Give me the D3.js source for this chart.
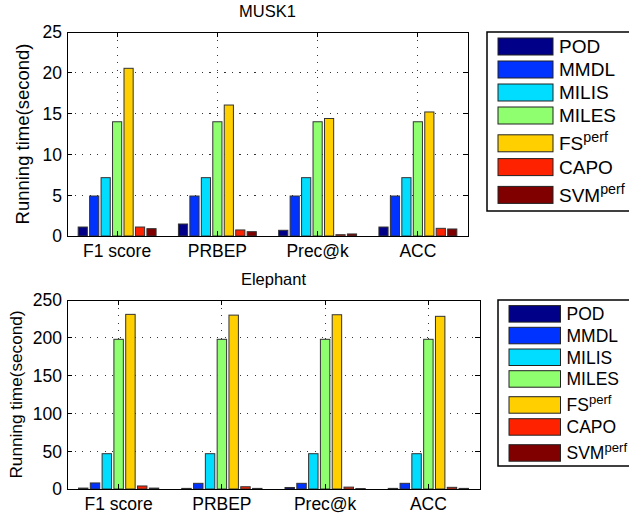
<!DOCTYPE html>
<meta charset="utf-8">
<script src="https://cdn.jsdelivr.net/npm/d3@7"></script>
<style type="text/css">
body { margin: 0; background: #fff; }
text { font-family: Arial, "Liberation Sans", sans-serif; fill: #000; }
.grid line { stroke: #333; stroke-width: 1; stroke-dasharray: 1.2,6.3; shape-rendering: crispEdges; }
.frame { fill: none; stroke: #000; stroke-width: 1; shape-rendering: crispEdges; }
.tick-in { stroke: #000; stroke-width: 1; shape-rendering: crispEdges; }
.bar { stroke: #333; stroke-width: 1; }
</style>
<body>
<div id="container"></div>
<script>
//---------------------------- DATA ----------------------------//
const categories = ["F1 score", "PRBEP", "Prec@k", "ACC"];
const methods = ["POD", "MMDL", "MILIS", "MILES", "FS", "CAPO", "SVM"];
const methodSup = ["", "", "", "", "perf", "", "perf"];
const methodColors = ["#000088", "#0033ff", "#00ddff", "#8fff70", "#ffcf00", "#ff2200", "#800000"];

// running time (second), one row per category, one value per method
const musk1Values = [
    [1.1, 4.9, 7.15, 14.0, 20.55, 1.1, 0.9],
    [1.47, 4.9, 7.15, 14.0, 16.05, 0.74, 0.53],
    [0.7, 4.9, 7.15, 14.0, 14.4, 0.16, 0.25],
    [1.1, 4.9, 7.15, 14.0, 15.2, 0.94, 0.86]
];
const elephantValues = [
    [1.2, 8, 46.7, 198, 231, 4, 1.2],
    [0.8, 7.5, 46.7, 198, 230, 3, 0.8],
    [2, 7.5, 46.7, 198, 230.5, 2.5, 0.6],
    [0.8, 7.5, 46.7, 198, 228.4, 2.2, 0.8]
];
const musk1Ticks = [0, 5, 10, 15, 20, 25];
const elephantTicks = [0, 50, 100, 150, 200, 250];

//---------------------------- SVG -----------------------------//
const W = 629, H = 519;
const svg = d3.select("#container").append("svg")
    .attr("width", W).attr("height", H);
svg.append("rect").attr("width", W).attr("height", H).attr("fill", "#fff");

function drawPanel(p) {
    const g = svg.append("g");
    const x = d3.scaleBand().domain(categories).range([p.left, p.right]).padding(0);
    const xs = d3.scaleBand().domain(methods)
        .range([x.bandwidth() * 0.1, x.bandwidth() * 0.9])
        .paddingInner(0.2).paddingOuter(0.1);
    const y = d3.scaleLinear().domain([0, p.ticks[p.ticks.length - 1]]).range([p.bottom, p.top]);

    // grid (behind bars)
    const grid = g.append("g").attr("class", "grid");
    grid.selectAll(".gy").data(p.ticks.slice(1, -1)).enter().append("line")
        .attr("x1", p.left).attr("x2", p.right)
        .attr("y1", d => y(d)).attr("y2", d => y(d));
    grid.selectAll(".gx").data(categories).enter().append("line")
        .attr("x1", d => x(d) + x.bandwidth() / 2).attr("x2", d => x(d) + x.bandwidth() / 2)
        .attr("y1", p.top).attr("y2", p.bottom);

    // bars
    const groups = g.selectAll(".grp").data(p.values).enter().append("g")
        .attr("transform", (d, i) => "translate(" + x(categories[i]) + ",0)");
    groups.selectAll("rect").data(d => d.map((v, j) => ({ m: methods[j], v: v, c: methodColors[j] })))
        .enter().append("rect")
        .attr("class", "bar")
        .attr("x", d => xs(d.m))
        .attr("width", xs.bandwidth())
        .attr("y", d => y(d.v))
        .attr("height", d => y(0) - y(d.v))
        .attr("fill", d => d.c);

    // frame and inner ticks
    g.append("rect").attr("class", "frame")
        .attr("x", p.left).attr("y", p.top)
        .attr("width", p.right - p.left).attr("height", p.bottom - p.top);
    p.ticks.forEach(t => {
        g.append("line").attr("class", "tick-in").attr("x1", p.left).attr("x2", p.left + 5).attr("y1", y(t)).attr("y2", y(t));
        g.append("line").attr("class", "tick-in").attr("x1", p.right - 5).attr("x2", p.right).attr("y1", y(t)).attr("y2", y(t));
    });
    categories.forEach(c => {
        const cx = x(c) + x.bandwidth() / 2;
        g.append("line").attr("class", "tick-in").attr("x1", cx).attr("x2", cx).attr("y1", p.bottom).attr("y2", p.bottom - 5);
        g.append("line").attr("class", "tick-in").attr("x1", cx).attr("x2", cx).attr("y1", p.top).attr("y2", p.top + 5);
    });

    // tick labels
    g.selectAll(".yl").data(p.ticks).enter().append("text")
        .attr("x", p.left - 5).attr("y", d => y(d))
        .attr("dy", "0.36em").attr("text-anchor", "end")
        .style("font-size", p.fs + "px").text(d => d);
    g.selectAll(".xl").data(categories).enter().append("text")
        .attr("x", d => x(d) + x.bandwidth() / 2).attr("y", p.bottom + 21)
        .attr("text-anchor", "middle")
        .style("font-size", p.fs + "px").text(d => d);

    // title and y label
    g.append("text").attr("x", (p.left + p.right) / 2).attr("y", p.top - 15)
        .attr("text-anchor", "middle").style("font-size", "16.5px").text(p.title);
    g.append("text")
        .attr("transform", "translate(" + p.ylabX + "," + (p.top + p.bottom) / 2 + ") rotate(-90)")
        .attr("text-anchor", "middle").style("font-size", p.ylabFs + "px")
        .text("Running time(second)");

    // legend
    const lg = svg.append("g");
    lg.append("rect")
        .attr("x", p.lgX).attr("y", p.lgY)
        .attr("width", W - p.lgX + 10).attr("height", p.lgH)
        .attr("fill", "#fff").attr("stroke", "#000").attr("stroke-width", 1.5);
    let cy = p.lgY + 3;
    methods.forEach((m, i) => {
        const h = methodSup[i] ? p.rowSup : p.row;
        const mid = cy + h / 2 + (methodSup[i] ? 2 : 0);
        lg.append("rect")
            .attr("x", p.lgX + 11).attr("y", mid - p.swH / 2)
            .attr("width", p.swW).attr("height", p.swH)
            .attr("fill", methodColors[i]).attr("stroke", "#222").attr("stroke-width", 1);
        const t = lg.append("text")
            .attr("x", p.lgX + p.swW + 17).attr("y", mid)
            .attr("dy", "0.36em").style("font-size", p.lgFs + "px");
        t.append("tspan").text(m);
        if (methodSup[i]) {
            t.append("tspan").attr("dy", "-0.55em").style("font-size", (p.lgFs * 0.75) + "px").text(methodSup[i]);
        }
        cy += h;
    });
}

drawPanel({
    title: "MUSK1", values: musk1Values, ticks: musk1Ticks,
    left: 67, right: 468, top: 32, bottom: 236, fs: 17.5, ylabFs: 18.5, ylabX: 29,
    lgX: 487, lgY: 32, lgH: 179, row: 23, rowSup: 28.6, swW: 55, swH: 17, lgFs: 19
});
drawPanel({
    title: "Elephant", values: elephantValues, ticks: elephantTicks,
    left: 67, right: 480, top: 300, bottom: 489, fs: 17.5, ylabFs: 17.2, ylabX: 22,
    lgX: 498, lgY: 300, lgH: 166, row: 21.7, rowSup: 26.3, swW: 51.5, swH: 16.5, lgFs: 17.5
});
</script>
</body>
